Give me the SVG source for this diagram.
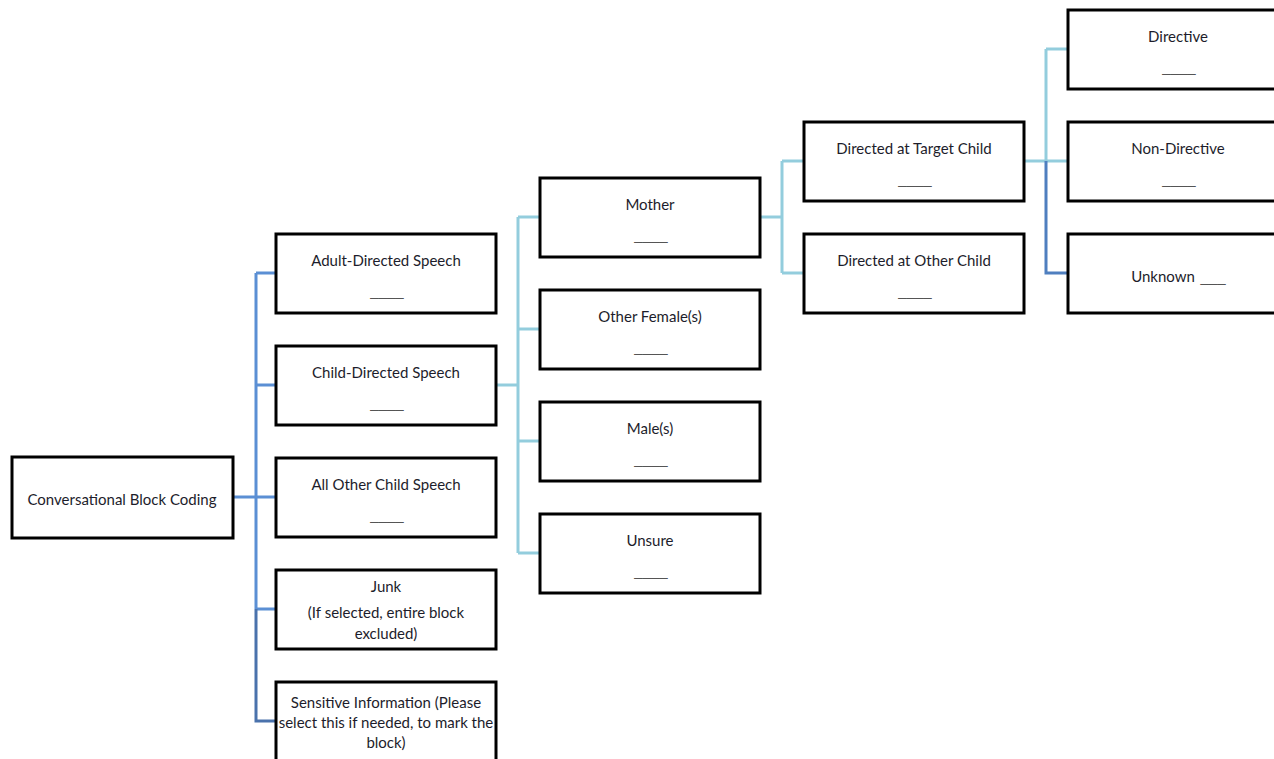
<svg xmlns="http://www.w3.org/2000/svg" width="1274" height="759" viewBox="0 0 1274 759">
<style>
.box{fill:#fff;stroke:#000;stroke-width:3}
.t{font-family:Lato,"Open Sans","Liberation Sans",sans-serif;font-size:15px;fill:#1d1d2b;text-anchor:middle}
.b{font-family:"Liberation Sans",Arial,sans-serif;font-size:15px;fill:#555;text-anchor:middle}
.c1{fill:none;stroke:#5b8fd4;stroke-width:3}
.c1d{fill:none;stroke:#4a72ac;stroke-width:3}
.c2{fill:none;stroke:#93cddd;stroke-width:3}
.c2d{fill:none;stroke:#4f7fbf;stroke-width:3}
</style>
<rect width="1274" height="759" fill="#fff"/>
<g id="connectors">
<path class="c1" d="M233 497H276M256 273V609M256 273H276M256 385H276M256 609H276"/>
<path class="c1d" d="M256 609V721H276"/>
<path class="c2" d="M496 385H518M518 217V553M518 217H540M518 329H540M518 441H540M518 553H540"/>
<path class="c2" d="M760 217H782M782 161V273M782 161H804M782 273H804"/>
<path class="c2" d="M1024 161H1046M1046 49V161M1046 49H1068M1046 161H1068"/>
<path class="c2d" d="M1046 161V273H1068"/>
</g>
<g id="root"><rect class="box" x="12" y="457" width="221" height="81"/><text class="t" x="122" y="505">Conversational Block Coding</text></g>
<g id="adult"><rect class="box" x="276" y="234" width="220" height="79"/><text class="t" x="386" y="266">Adult-Directed Speech</text><text class="b" x="387" y="296">____</text></g>
<g id="child"><rect class="box" x="276" y="346" width="220" height="79"/><text class="t" x="386" y="378">Child-Directed Speech</text><text class="b" x="387" y="408">____</text></g>
<g id="allother"><rect class="box" x="276" y="458" width="220" height="79"/><text class="t" x="386" y="490">All Other Child Speech</text><text class="b" x="387" y="520">____</text></g>
<g id="junk"><rect class="box" x="276" y="570" width="220" height="79"/><text class="t" x="386" y="592">Junk</text><text class="t" x="386" y="618">(If selected, entire block</text><text class="t" x="386" y="639">excluded)</text></g>
<g id="sensitive"><rect class="box" x="276" y="682" width="220" height="90"/><text class="t" x="386" y="708">Sensitive Information (Please</text><text class="t" x="386" y="728">select this if needed, to mark the</text><text class="t" x="386" y="748">block)</text></g>
<g id="mother"><rect class="box" x="540" y="178" width="220" height="79"/><text class="t" x="650" y="210">Mother</text><text class="b" x="651" y="240">____</text></g>
<g id="female"><rect class="box" x="540" y="290" width="220" height="79"/><text class="t" x="650" y="322">Other Female(s)</text><text class="b" x="651" y="352">____</text></g>
<g id="male"><rect class="box" x="540" y="402" width="220" height="79"/><text class="t" x="650" y="434">Male(s)</text><text class="b" x="651" y="464">____</text></g>
<g id="unsure"><rect class="box" x="540" y="514" width="220" height="79"/><text class="t" x="650" y="546">Unsure</text><text class="b" x="651" y="576">____</text></g>
<g id="target"><rect class="box" x="804" y="122" width="220" height="79"/><text class="t" x="914" y="154">Directed at Target Child</text><text class="b" x="915" y="184">____</text></g>
<g id="otherchild"><rect class="box" x="804" y="234" width="220" height="79"/><text class="t" x="914" y="266">Directed at Other Child</text><text class="b" x="915" y="296">____</text></g>
<g id="directive"><rect class="box" x="1068" y="10" width="220" height="79"/><text class="t" x="1178" y="42">Directive</text><text class="b" x="1179" y="72">____</text></g>
<g id="nondirective"><rect class="box" x="1068" y="122" width="220" height="79"/><text class="t" x="1178" y="154">Non-Directive</text><text class="b" x="1179" y="184">____</text></g>
<g id="unknown"><rect class="box" x="1068" y="234" width="220" height="79"/><text class="t" x="1163" y="282">Unknown</text><text class="b" x="1213" y="282">___</text></g>
</svg>
